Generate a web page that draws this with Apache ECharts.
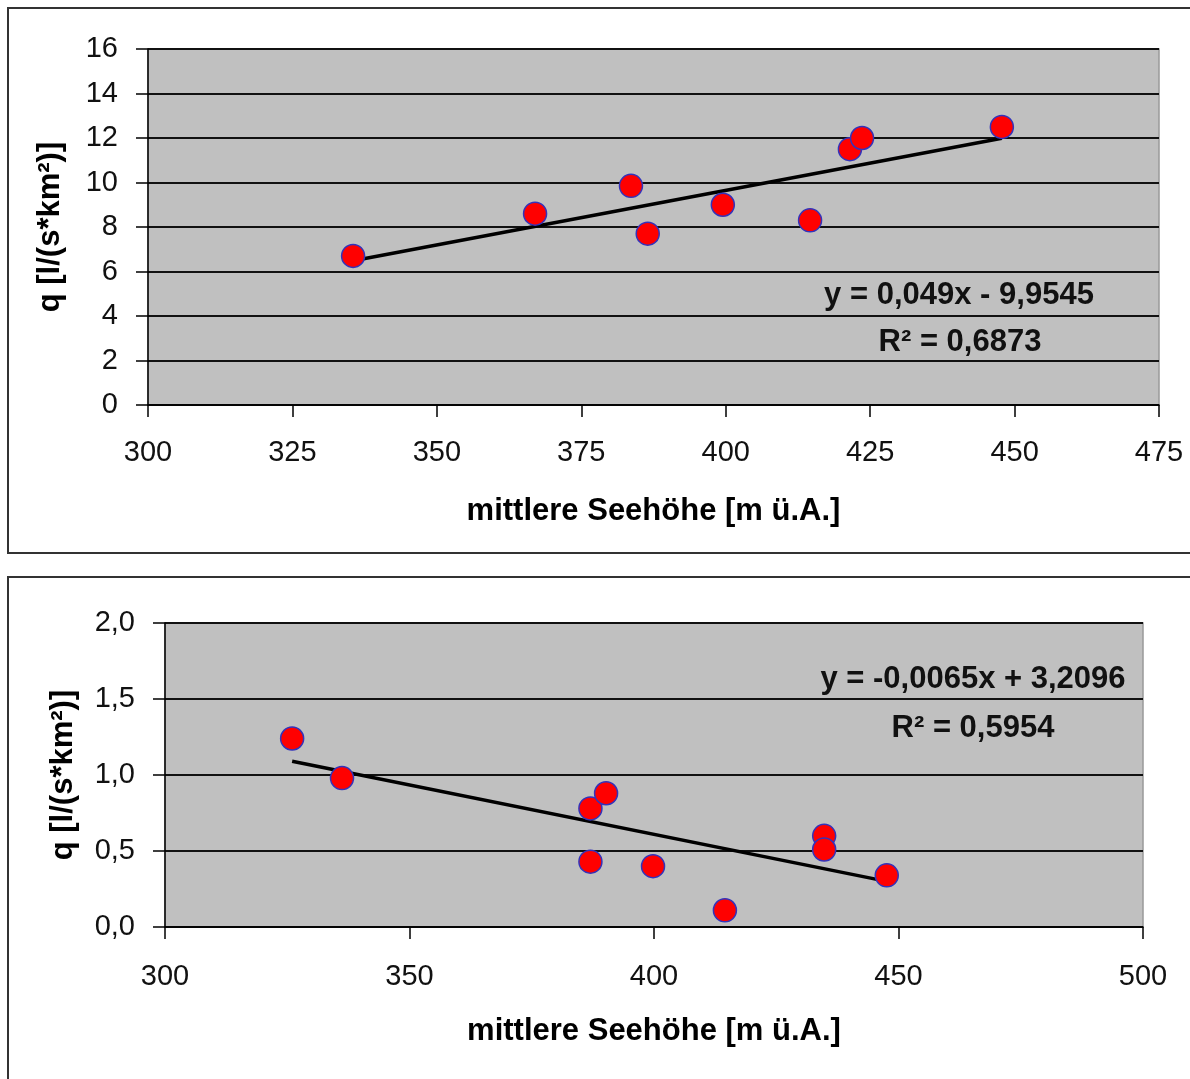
<!DOCTYPE html>
<html><head><meta charset="utf-8">
<script src="https://cdn.jsdelivr.net/npm/echarts@6/dist/echarts.min.js"></script>
<style>html,body{margin:0;padding:0;background:#fff}#c{width:1190px;height:1079px}</style>
</head><body><div id="c"></div>
<script>
// ---- Data ----
const topX = [335.5, 367.0, 383.6, 386.5, 399.5, 414.6, 421.5, 423.6, 447.8];
const topY = [6.7, 8.6, 9.85, 7.7, 9.0, 8.3, 11.5, 12.0, 12.5];
const topTrendX = [335.5, 447.8];
const topTrendY = [6.48, 11.99];
const topEq = 'y = 0,049x - 9,9545';
const topR2 = 'R² = 0,6873';

const botX = [326.0, 336.2, 387.0, 390.2, 387.0, 399.8, 414.5, 434.8, 434.8, 447.6];
const botY = [1.24, 0.98, 0.78, 0.88, 0.43, 0.40, 0.11, 0.60, 0.51, 0.34];
const botTrendX = [326.0, 447.6];
const botTrendY = [1.09, 0.30];
const botEq = 'y = -0,0065x + 3,2096';
const botR2 = 'R² = 0,5954';

const xTitle = 'mittlere Seehöhe [m ü.A.]';
const yTitle = 'q [l/(s*km²)]';

// ---- Chart ----
const zip = (a, b) => a.map((v, i) => [v, b[i]]);
const tickFont = "'Liberation Sans Narrow', 'Liberation Sans', Arial, sans-serif";
const boldFont = "'Liberation Sans', Arial, sans-serif";

function xAxis(idx, min, max, interval, margin, nameGap) {
  return {
    type: 'value', gridIndex: idx, min, max, interval,
    name: xTitle, nameLocation: 'middle', nameGap,
    nameTextStyle: {fontFamily: boldFont, fontWeight: 'bold', fontSize: 31, color: '#000'},
    axisLine: {show: true, onZero: false, lineStyle: {color: '#000', width: 1.5}},
    axisTick: {show: true, length: 12, lineStyle: {color: '#000', width: 1.5}},
    axisLabel: {margin, fontFamily: tickFont, fontSize: 29, color: '#111'},
    splitLine: {show: false}
  };
}
function yAxis(idx, min, max, interval, fmt, nameGap) {
  return {
    type: 'value', gridIndex: idx, min, max, interval,
    name: yTitle, nameLocation: 'middle', nameGap, nameRotate: 90,
    nameTextStyle: {fontFamily: boldFont, fontWeight: 'bold', fontSize: 31, color: '#000'},
    axisLine: {show: true, lineStyle: {color: '#000', width: 1.5}},
    axisTick: {show: true, length: 12, lineStyle: {color: '#000', width: 1.5}},
    axisLabel: {margin: 30, fontFamily: tickFont, fontSize: 29, color: '#111', formatter: fmt},
    splitLine: {show: true, lineStyle: {color: '#111', width: 1.8}}
  };
}
const marker = {color: '#ff0000', opacity: 1, borderColor: '#3333bb', borderWidth: 1.5};

const chart = echarts.init(document.getElementById('c'), null, {renderer: 'canvas'});
chart.setOption({
  backgroundColor: '#fff',
  animation: false,
  grid: [
    {left: 148, top: 49, width: 1011, height: 356, show: true, backgroundColor: '#c0c0c0', borderColor: '#999', borderWidth: 1.5},
    {left: 165, top: 623, width: 978, height: 304, show: true, backgroundColor: '#c0c0c0', borderColor: '#999', borderWidth: 1.5}
  ],
  xAxis: [xAxis(0, 300, 475, 25, 33, 91), xAxis(1, 300, 500, 50, 35, 89)],
  yAxis: [
    yAxis(0, 0, 16, 2, v => String(v), 82),
    yAxis(1, 0, 2, 0.5, v => v.toFixed(1).replace('.', ','), 86)
  ],
  series: [
    {type: 'line', xAxisIndex: 0, yAxisIndex: 0, data: zip(topTrendX, topTrendY), showSymbol: false, lineStyle: {color: '#000', width: 3.5}, z: 2},
    {type: 'scatter', xAxisIndex: 0, yAxisIndex: 0, data: zip(topX, topY), symbolSize: 23, itemStyle: marker, z: 3},
    {type: 'line', xAxisIndex: 1, yAxisIndex: 1, data: zip(botTrendX, botTrendY), showSymbol: false, lineStyle: {color: '#000', width: 3.5}, z: 2},
    {type: 'scatter', xAxisIndex: 1, yAxisIndex: 1, data: zip(botX, botY), symbolSize: 23, itemStyle: marker, z: 3}
  ],
  graphic: [
    {type: 'rect', shape: {x: 8, y: 8, width: 1200, height: 545}, style: {fill: 'none', stroke: '#333', lineWidth: 2}, z: 100},
    {type: 'rect', shape: {x: 8, y: 577, width: 1200, height: 520}, style: {fill: 'none', stroke: '#333', lineWidth: 2}, z: 100},
    {type: 'text', x: 959, y: 295, style: {text: topEq, font: 'bold 31px ' + boldFont, fill: '#111', textAlign: 'center', textVerticalAlign: 'middle'}, z: 100},
    {type: 'text', x: 960, y: 342, style: {text: topR2, font: 'bold 31px ' + boldFont, fill: '#111', textAlign: 'center', textVerticalAlign: 'middle'}, z: 100},
    {type: 'text', x: 973, y: 679, style: {text: botEq, font: 'bold 31px ' + boldFont, fill: '#111', textAlign: 'center', textVerticalAlign: 'middle'}, z: 100},
    {type: 'text', x: 973, y: 728, style: {text: botR2, font: 'bold 31px ' + boldFont, fill: '#111', textAlign: 'center', textVerticalAlign: 'middle'}, z: 100}
  ]
});
</script></body></html>
